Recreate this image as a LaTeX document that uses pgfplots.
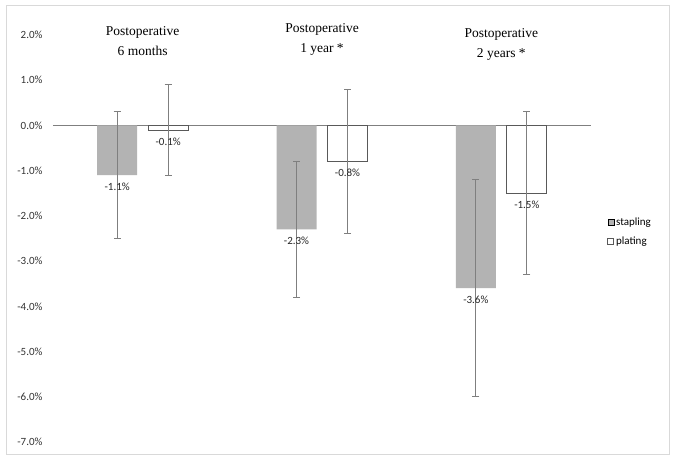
\documentclass[border=0pt]{standalone}
\usepackage{fontspec}
\setmainfont{Carlito}
\newfontfamily\timesfont{Liberation Serif}
\usepackage{pgfplots}
\pgfplotsset{compat=1.18}
\usepackage{pgfplotstable}

\definecolor{staplegray}{HTML}{B3B3B3}
\definecolor{edgegray}{HTML}{595959}
\definecolor{errgray}{HTML}{7F7F7F}
\definecolor{framegray}{HTML}{D9D9D9}

% x: 0 = 6 months, 1 = 1 year, 2 = 2 years; e = half width of error bar
\pgfplotstableread{
x y e lab
0 -1.1 1.4 -1.1
1 -2.3 1.5 -2.3
2 -3.6 2.4 -3.6
}\stapling
\pgfplotstableread{
x y e lab
0 -0.1 1.0 -0.1
1 -0.8 1.6 -0.8
2 -1.5 1.8 -1.5
}\plating

\begin{document}
\begin{tikzpicture}
\begin{axis}[
  scale only axis, width=538pt, height=407pt,
  ybar=11pt, bar width=40pt,
  xmin=-0.5, xmax=2.5, ymin=-7, ymax=2,
  xtick=\empty,
  ytick={-7,-6,-5,-4,-3,-2,-1,0,1,2},
  yticklabels={-7.0\%,-6.0\%,-5.0\%,-4.0\%,-3.0\%,-2.0\%,-1.0\%,0.0\%,1.0\%,2.0\%},
  yticklabel style={font=\fontsize{11}{13}\selectfont, text=black!80, xshift=-7pt},
  axis line style={draw=none}, major tick length=0pt,
  extra y ticks={0}, extra y tick labels={},
  extra y tick style={grid=major, major grid style={errgray, line width=1.5pt}},
  clip=false,
  nodes near coords={\pgfplotspointmeta\%},
  nodes near coords style={font=\fontsize{11}{13}\selectfont, text=black!85, anchor=north, yshift=-4pt},
  point meta=explicit symbolic,
  legend style={at={(1.03,0.517)}, anchor=west, draw=none, fill=none,
    font=\fontsize{11}{13}\selectfont, row sep=6pt, inner sep=0pt,
    /tikz/every even column/.append style={column sep=0pt}},
  legend cell align=left,
]
\addplot[fill=staplegray, draw=none,
  error bars/.cd, y dir=both, y explicit,
  error bar style={errgray, line width=1pt},
  error mark options={rotate=90, mark size=3.5pt, errgray, line width=1pt}]
  table[x=x, y=y, y error=e, meta=lab] {\stapling};
\addplot[fill=white, draw=edgegray, line width=0.8pt,
  error bars/.cd, y dir=both, y explicit,
  error bar style={errgray, line width=1pt},
  error mark options={rotate=90, mark size=3.5pt, errgray, line width=1pt}]
  table[x=x, y=y, y error=e, meta=lab] {\plating};
\legend{stapling, plating}
\pgfplotsset{legend image code/.code={\draw[#1] (0pt,-3pt) rectangle (6pt,3pt);}}

\node[align=center, font=\timesfont\fontsize{13.5}{20}\selectfont] at (axis cs:0,1.86) {Postoperative\\6 months};
\node[align=center, font=\timesfont\fontsize{13.5}{20}\selectfont] at (axis cs:1,1.90) {Postoperative\\1 year *};
\node[align=center, font=\timesfont\fontsize{13.5}{20}\selectfont] at (axis cs:2,1.80) {Postoperative\\2 years *};
\end{axis}
\draw[framegray, line width=1pt] ([shift={(-46pt,-13pt)}]current axis.south west) rectangle ([shift={(78pt,29pt)}]current axis.north east);
\path ([shift={(-53pt,-19pt)}]current axis.south west) rectangle ([shift={(86pt,35pt)}]current axis.north east);
\end{tikzpicture}
\end{document}
